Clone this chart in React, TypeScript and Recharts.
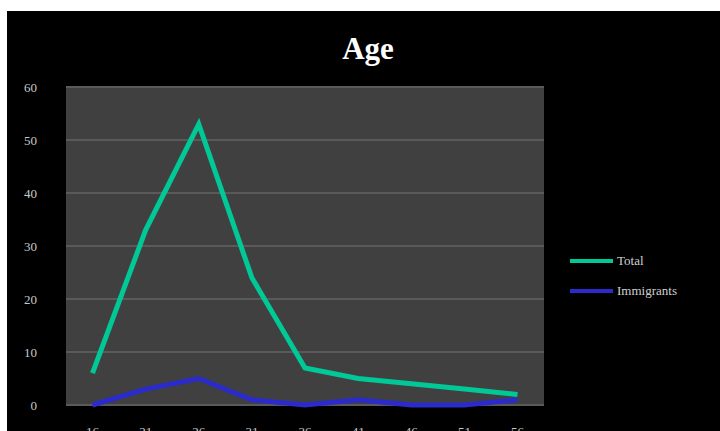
import React from "react";
import { LineChart, Line, XAxis, YAxis, CartesianGrid } from "recharts";

const categories = ["16", "21", "26", "31", "36", "41", "46", "51", "56"];
const totalValues = [6, 33, 53, 24, 7, 5, 4, 3, 2];
const immigrantValues = [0, 3, 5, 1, 0, 1, 0, 0, 1];
const yTicks = [0, 10, 20, 30, 40, 50, 60];
const seriesNames = ["Total", "Immigrants"];
const seriesColors = ["#00C896", "#2B2BCB"];

const data = categories.map((c, i) => ({
  age: c,
  Total: totalValues[i],
  Immigrants: immigrantValues[i],
}));

const font = '"Liberation Serif", "Times New Roman", serif';

export default function App() {
  return (
    <div style={{ position: "absolute", left: 0, top: 0, width: 720, height: 431, background: "#fff", overflow: "hidden" }}>
      <div style={{ position: "absolute", left: 7, top: 11, width: 713, height: 420, background: "#000" }}>
        <div
          style={{
            position: "absolute",
            left: 261,
            width: 200,
            top: 22,
            textAlign: "center",
            fontFamily: font,
            fontWeight: "bold",
            fontSize: 31,
            color: "#fff",
            lineHeight: "31px",
          }}
        >
          Age
        </div>
        <div
          style={{
            position: "absolute",
            left: 563,
            top: 235,
            fontFamily: font,
            fontSize: 13,
            color: "#d0d0d0",
          }}
        >
          {seriesNames.map((n, i) => (
            <div key={n} style={{ display: "flex", alignItems: "center", height: 30 }}>
              <div style={{ width: 43, height: 4, background: seriesColors[i], marginRight: 4 }} />
              <span>{n}</span>
            </div>
          ))}
        </div>
        <LineChart
          width={713}
          height={420}
          data={data}
          margin={{ top: 76, right: 176, bottom: 0, left: 0 }}
          style={{ position: "absolute", left: 0, top: 0 }}
        >
          <CartesianGrid
            vertical={false}
            fill="#404040"
            stroke="#5a5a5a"
            strokeWidth={2}
          />
          <XAxis
            dataKey="age"
            padding={{ left: 26.5, right: 26.5 }}
            axisLine={false}
            tickLine={false}
            tickMargin={16}
            height={26}
            tick={{ fill: "#c8c8c8", fontFamily: font, fontSize: 13 }}
          />
          <YAxis
            domain={[0, 60]}
            ticks={yTicks}
            width={59}
            axisLine={false}
            tickLine={false}
            tickMargin={23}
            tick={{ fill: "#c8c8c8", fontFamily: font, fontSize: 13 }}
          />
          <Line
            type="linear"
            dataKey="Total"
            stroke={seriesColors[0]}
            strokeWidth={5}
            dot={false}
            isAnimationActive={false}
          />
          <Line
            type="linear"
            dataKey="Immigrants"
            stroke={seriesColors[1]}
            strokeWidth={5}
            dot={false}
            isAnimationActive={false}
          />
        </LineChart>
      </div>
    </div>
  );
}
